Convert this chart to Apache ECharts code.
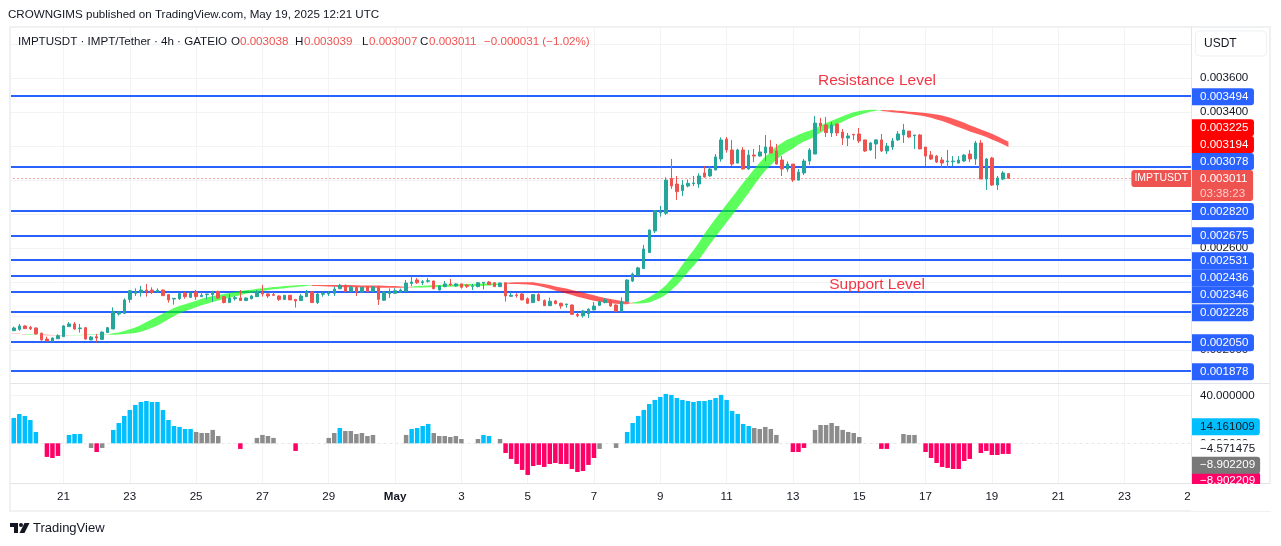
<!DOCTYPE html>
<html>
<head>
<meta charset="utf-8">
<title>IMPTUSDT 4h</title>
<script src="https://cdn.jsdelivr.net/npm/echarts@6/dist/echarts.min.js"></script>
<style>
  html, body { margin: 0; padding: 0; background: #fff; }
  #chart { width: 1281px; height: 546px; }
</style>
</head>
<body>
<div id="chart"></div>
<script>
// Prices throughout are in millionths of USDT (3494 = 0.003494).
// One row per 4h candle: [open, close, low, high].
const candles = [
  [2116,2120,2113,2122],
  [2115,2131,2113,2139],[2123,2143,2115,2155],[2143,2127,2125,2147],[2135,2127,2119,2143],[2131,2096,2092,2135],
  [2100,2061,2057,2104],[2066,2055,2053,2080],[2053,2072,2051,2076],[2068,2086,2066,2094],[2080,2143,2078,2147],
  [2139,2155,2137,2166],[2155,2125,2121,2166],[2127,2131,2104,2155],[2133,2066,2062,2137],[2061,2078,2059,2084],
  [2080,2072,2047,2096],[2064,2107,2062,2111],[2104,2133,2102,2137],[2125,2229,2125,2252],[2213,2225,2204,2229],
  [2217,2296,2213,2305],[2299,2350,2280,2354],[2335,2343,2319,2364],[2339,2354,2315,2378],[2354,2346,2315,2390],
  [2354,2339,2331,2370],[2343,2352,2339,2364],[2354,2321,2319,2358],[2327,2296,2280,2331],[2301,2305,2268,2305],
  [2303,2333,2296,2339],[2335,2315,2303,2343],[2311,2335,2307,2343],[2343,2315,2296,2354],[2315,2323,2313,2343],
  [2327,2331,2299,2331],[2327,2344,2284,2350],[2346,2307,2303,2350],[2315,2280,2276,2319],[2280,2307,2278,2331],
  [2303,2309,2292,2319],[2307,2292,2290,2354],[2292,2307,2290,2311],[2303,2319,2299,2325],[2315,2343,2313,2354],
  [2339,2331,2315,2384],[2331,2319,2307,2335],[2327,2323,2319,2343],[2319,2299,2290,2323],[2299,2323,2296,2325],
  [2323,2296,2296,2325],[2299,2290,2251,2301],[2292,2319,2290,2331],[2315,2343,2313,2354],[2343,2280,2278,2344],
  [2280,2331,2272,2335],[2329,2333,2315,2343],[2331,2335,2319,2348],[2335,2360,2319,2374],[2362,2382,2358,2390],
  [2382,2346,2342,2386],[2346,2370,2342,2378],[2370,2342,2319,2374],[2342,2370,2339,2374],[2374,2346,2342,2378],
  [2346,2370,2342,2378],[2370,2299,2266,2374],[2294,2342,2290,2346],[2333,2344,2307,2364],[2335,2350,2331,2364],
  [2342,2354,2339,2362],[2346,2395,2342,2413],[2393,2401,2378,2433],[2413,2397,2390,2425],[2397,2403,2384,2413],
  [2405,2409,2397,2425],[2407,2362,2358,2409],[2354,2378,2352,2382],[2374,2390,2370,2407],[2390,2384,2378,2419],
  [2378,2390,2374,2395],[2390,2370,2362,2393],[2382,2376,2366,2390],[2376,2378,2354,2390],[2374,2397,2370,2401],
  [2395,2399,2358,2401],[2401,2387,2384,2407],[2397,2374,2372,2401],[2374,2395,2372,2399],[2397,2319,2286,2397],
  [2317,2323,2315,2339],[2325,2321,2309,2335],[2331,2296,2294,2342],[2303,2276,2274,2311],[2280,2327,2278,2331],
  [2327,2292,2288,2335],[2292,2262,2260,2299],[2262,2288,2260,2309],[2290,2274,2270,2296],[2276,2260,2244,2280],
  [2268,2272,2250,2272],[2266,2211,2207,2270],[2211,2203,2194,2223],[2203,2231,2192,2237],[2215,2241,2190,2247],
  [2237,2260,2235,2284],[2264,2286,2260,2299],[2280,2296,2276,2305],[2290,2260,2256,2299],[2266,2229,2225,2270],
  [2229,2286,2227,2311],[2286,2413,2286,2417],[2407,2448,2401,2456],[2440,2484,2438,2491],[2480,2595,2478,2619],
  [2574,2707,2572,2707],[2701,2820,2689,2824],[2809,2814,2785,2848],[2805,3000,2795,3016],[3010,2965,2948,3124],
  [2977,2932,2883,3024],[2938,2971,2906,3000],[2965,2981,2957,3004],[2979,2983,2965,3024],[2977,3024,2955,3040],
  [3042,3018,3014,3083],[3024,3065,3020,3083],[3059,3136,3059,3153],[3124,3236,3108,3251],[3241,3177,3161,3253],
  [3177,3094,3083,3236],[3100,3177,3098,3185],[3177,3065,3063,3194],[3065,3147,3059,3177],[3147,3141,3106,3183],
  [3141,3165,3138,3206],[3159,3194,3112,3265],[3194,3159,3157,3236],[3171,3094,3091,3212],[3118,3065,3024,3141],
  [3065,3094,3049,3110],[3094,3000,2989,3094],[3000,3047,2997,3065],[3042,3112,3030,3124],[3112,3177,3089,3188],
  [3153,3335,3153,3376],[3335,3318,3288,3365],[3324,3279,3253,3371],[3277,3324,3253,3341],[3330,3277,3259,3330],
  [3282,3247,3206,3300],[3247,3259,3200,3277],[3269,3265,3236,3271],[3271,3230,3218,3306],[3236,3171,3165,3236],
  [3177,3218,3171,3224],[3212,3236,3124,3241],[3236,3171,3165,3271],[3171,3200,3153,3218],[3194,3230,3177,3247],
  [3236,3271,3230,3288],[3265,3294,3218,3330],[3288,3253,3247,3288],[3261,3265,3183,3265],[3265,3183,3181,3271],
  [3194,3141,3083,3194],[3147,3124,3118,3171],[3141,3106,3100,3147],[3118,3100,3071,3136],[3108,3112,3071,3177],
  [3108,3112,3083,3141],[3100,3118,3098,3141],[3112,3147,3106,3153],[3153,3124,3106,3177],[3124,3218,3089,3230],
  [3218,3006,3006,3236],[3006,3124,2942,3130],[3130,2971,2965,3136],[2971,3012,2942,3024],[3006,3042,3000,3053],
  [3038,3011,3007,3039]
];

// Moving-average ribbon, one row per candle: [fast, slow].
const ribbon = [
  [2095,2097],
  [2095,2097],[2095,2097],[2095,2093],[2095,2093],[2094,2092],[2090,2092],[2089,2091],[2088,2090],[2088,2090],[2088,2090],
  [2090,2088],[2090,2088],[2090,2088],[2092,2090],[2092,2090],[2092,2090],[2092,2090],[2094,2092],[2100,2091],[2105,2093],
  [2113,2095],[2123,2098],[2134,2102],[2149,2109],[2166,2119],[2182,2132],[2199,2146],[2216,2163],[2232,2182],[2249,2202],
  [2262,2218],[2271,2229],[2281,2241],[2291,2253],[2303,2265],[2311,2274],[2319,2284],[2325,2293],[2331,2301],[2337,2309],
  [2342,2316],[2348,2324],[2353,2332],[2356,2338],[2361,2344],[2365,2349],[2368,2354],[2372,2358],[2374,2362],[2377,2365],
  [2379,2369],[2382,2372],[2384,2375],[2384,2378],[2378,2383],[2377,2383],[2376,2383],[2375,2383],[2373,2383],[2372,2383],
  [2371,2383],[2371,2383],[2370,2382],[2369,2381],[2369,2381],[2368,2380],[2368,2380],[2367,2379],[2367,2378],[2367,2377],
  [2367,2375],[2369,2373],[2375,2369],[2377,2369],[2379,2369],[2381,2370],[2383,2371],[2384,2372],[2385,2373],[2386,2374],
  [2387,2375],[2389,2376],[2390,2377],[2391,2378],[2391,2378],[2392,2379],[2392,2380],[2392,2382],[2392,2387],[2392,2395],
  [2390,2398],[2389,2399],[2388,2400],[2386,2399],[2383,2399],[2377,2394],[2370,2390],[2361,2383],[2351,2375],[2343,2369],
  [2334,2363],[2325,2354],[2315,2347],[2307,2339],[2299,2331],[2291,2323],[2285,2315],[2280,2307],[2276,2301],[2273,2295],
  [2270,2289],[2271,2285],[2281,2275],[2287,2275],[2297,2276],[2312,2281],[2332,2294],[2354,2307],[2382,2326],[2419,2354],
  [2456,2382],[2503,2421],[2546,2460],[2587,2495],[2633,2533],[2684,2578],[2730,2624],[2775,2667],[2815,2709],[2858,2752],
  [2899,2793],[2942,2838],[2984,2882],[3024,2926],[3065,2971],[3103,3015],[3138,3056],[3167,3087],[3197,3121],[3218,3147],
  [3238,3168],[3250,3186],[3267,3209],[3279,3227],[3290,3240],[3303,3256],[3321,3279],[3336,3294],[3349,3310],[3362,3326],
  [3375,3343],[3388,3359],[3398,3372],[3406,3382],[3410,3392],[3413,3401],[3413,3407],[3406,3412],[3403,3411],[3399,3411],
  [3396,3408],[3392,3406],[3388,3402],[3384,3400],[3379,3397],[3373,3394],[3366,3390],[3356,3385],[3347,3379],[3335,3371],
  [3322,3360],[3310,3349],[3299,3337],[3286,3322],[3275,3310],[3265,3297],[3253,3285],[3239,3272],[3225,3257],[3211,3242],
  [3194,3225]
];

// Lower-pane momentum histogram and its colour state
// (b = rising, g = fading, p = falling, . = no bar).
const momentum = [
  17.0,
  21.2,24.5,22.9,19.5,9.5,0,-11.4,-12.3,-10.6,0,
  7.0,7.8,7.8,0,-3.9,-7.3,-3.9,0,11.2,17.0,
  22.9,27.9,32.1,34.6,35.4,34.6,34.6,27.9,19.5,14.5,
  13.7,12.0,12.0,9.5,8.6,8.6,11.2,6.1,0,0,
  0,-4.7,0,0,4.5,7.0,6.1,4.5,0,0,
  0,-6.4,0,0,0,0,0,4.5,8.6,12.8,
  10.3,10.3,7.8,8.6,6.1,7.0,0,0,0,0,
  0,7.0,12.0,12.8,14.5,16.2,8.6,6.1,6.1,5.3,
  6.1,3.6,0,0,3.6,7.0,6.1,0,3.6,-8.1,
  -13.1,-17.3,-22.3,-26.5,-19.0,-18.1,-19.8,-17.3,-16.5,-17.3,
  -17.3,-21.5,-24.0,-23.2,-18.1,-12.3,-4.7,0,0,-3.9,
  0,9.5,17.0,22.9,27.9,32.9,36.3,38.8,41.3,40.5,
  37.9,36.3,35.4,34.6,35.4,35.4,36.3,37.9,40.5,36.3,
  27.1,24.6,16.2,14.5,12.8,12.0,13.7,12.0,7.0,0,
  0,-7.3,-7.3,-3.9,0,11.2,15.3,15.3,17.0,14.5,
  11.2,9.5,8.6,5.3,0,0,0,-4.7,-4.7,0,
  0,7.8,7.0,7.0,0,-7.3,-12.3,-16.5,-19.8,-20.6,
  -21.5,-21.5,-14.8,-13.1,0,-8.1,-6.4,-9.8,-9.8,-8.9,
  -8.902209
];
const momentumState = (
  'b' +
  'bbbbb.ppp.' + 'bbb.gpg.bb' + 'bbbbbbbbbb' + 'bbbggggg..' + '.p..gggg..' +
  '.p.....ggb' + 'gggggg....' + '.gbbbbgggg' + 'gg..gbb.gp' + 'pppppppppp' +
  'ppppppg..g' + '.bbbbbbbbb' + 'bbbbbbbbbb' + 'bbbbggggg.' + '.ppp.ggggg' +
  'gggg...pp.' + '.ggg.ppppp' + 'pppp.pppppp'
).split('');

const levelPrices = [3494, 3078, 2820, 2675, 2531, 2436, 2346, 2228, 2050, 1878];
const ribbonLast = { slow: 3225, fast: 3194 };
const lastClose = 3011;
const pairLabel = 'IMPTUSDT';
const countdown = '03:38:23';
const dateLabels = ['21','23','25','27','29','May','3','5','7','9','11','13','15','17','19','21','23','25'];
const paneValues = { cyan: 14.161009, plain: -4.571475, gray: -8.902209, pink: -8.902209 };

// Layout of the two panes and the time scale.
const FIRST_TICK = 10, TICK_STEP = 12, BAR_COUNT = 215;
const PLOT = { left: 5.474, width: 1188.09 };
const TAG_NUDGE = -1.56;
const levelTagShift = [0.7, -5.3, 0.7, 0.3, 0.8, 1.6, 3.3, 1.2, 0.9, 0.7];

const UP = '#26a69a', DOWN = '#ef5350', LEVEL = '#2962ff', GRID = '#f2f3f5', INK = '#131722';
const FONT = '"Liberation Sans", Arial, sans-serif';
const SCALE_SIZE = 11.6;
const STATE_COLOR = { b: '#00bfff', g: '#8c8c8c', p: '#ff0066', '.': 'transparent' };

const categories = [];
for (let i = 0; i < BAR_COUNT; i++) {
  const t = new Date(Date.UTC(2025, 3, 19, 8 + i * 4));
  categories.push(t.toISOString().slice(0, 16));
}
const isDateTick = i => i >= FIRST_TICK && (i - FIRST_TICK) % TICK_STEP === 0;
const tickText = i => dateLabels[(i - FIRST_TICK) / TICK_STEP] || '';
const price = v => (v / 1e6).toFixed(6);
const fixed = v => v.toFixed(6).replace('-', '\u2212');

// A value tag sitting on the price scale, carried by a markLine data item.
function tag(value, text, bg, color, shift, extra) {
  return {
    yAxis: value,
    lineStyle: { width: 0, color: 'transparent' },
    label: Object.assign({
      show: true, position: 'end', distance: 0, align: 'left', verticalAlign: 'middle',
      formatter: text, color: color, backgroundColor: bg,
      fontFamily: FONT, fontSize: SCALE_SIZE, lineHeight: 17,
      padding: [0, 5.6, 0, 8], borderRadius: [0, 3, 3, 0],
      offset: [TAG_NUDGE, shift]
    }, extra || {})
  };
}

// Ribbon band: each run of one colour becomes a single filled polygon,
// reaching one bar further so neighbouring runs join up.
function renderRibbon(params, api) {
  const i = params.dataIndex;
  const rising = k => ribbon[k][0] >= ribbon[k][1];
  if (i > 0 && rising(i) === rising(i - 1)) return null;
  let end = i;
  while (end + 1 < ribbon.length && rising(end + 1) === rising(i)) end++;
  const stop = Math.min(end + 1, ribbon.length - 1);
  const pts = [];
  for (let k = i; k <= stop; k++) pts.push(api.coord([k, ribbon[k][0]]));
  for (let k = stop; k >= i; k--) pts.push(api.coord([k, ribbon[k][1]]));
  return {
    type: 'polygon',
    shape: { points: pts },
    style: { fill: rising(i) ? 'rgba(0,255,0,0.64)' : 'rgba(255,0,0,0.64)' }
  };
}

const last = candles[candles.length - 1];
const prevClose = candles[candles.length - 2][1];
const change = last[1] - prevClose;
const changePct = (change / prevClose * 100).toFixed(2).replace('-', '\u2212');

const SMALL = '11.6px ' + FONT;
function text(x, y, str, fill, opts) {
  return {
    type: 'text', x: x, y: y, z: 40, silent: true,
    style: Object.assign({
      text: str, fill: fill || INK, font: SMALL,
      textAlign: 'left', textVerticalAlign: 'middle'
    }, opts || {})
  };
}
function box(x, y, w, h, z) {
  return { type: 'rect', z: z, silent: true, shape: { x: x, y: y, width: w, height: h }, style: { fill: '#fff' } };
}
function rule(x1, y1, x2, y2, color) {
  return { type: 'line', z: 18, silent: true, shape: { x1: x1, y1: y1, x2: x2, y2: y2 }, style: { stroke: color, lineWidth: 1 } };
}

const graphics = [
  box(0, 27, 10, 486, 15),
  box(10, 484, 1182, 28, 15),
  box(1192, 27, 3, 486, 15),
  box(1191, 484, 80, 27, 25),
  { type: 'rect', z: 17, silent: true, shape: { x: 10, y: 27, width: 1260, height: 484 },
    style: { fill: 'transparent', stroke: '#f0f1f3', lineWidth: 2 } },
  rule(1191.5, 27, 1191.5, 511, '#e4e5e8'),
  rule(10, 383.5, 1270, 383.5, '#e4e5e8'),
  rule(10, 483.5, 1270, 483.5, '#e4e5e8'),
  { type: 'rect', z: 26, silent: true, shape: { x: 1195.5, y: 31, width: 71, height: 25, r: 4 },
    style: { fill: '#fff', stroke: '#f0f1f3', lineWidth: 1 } },
  text(1204, 44, 'USDT', INK, { font: '12px ' + FONT }),
  text(8, 14.5, 'CROWNGIMS published on TradingView.com, May 19, 2025 12:21 UTC', INK),
  text(18, 42, 'IMPTUSDT \u00b7 IMPT/Tether \u00b7 4h \u00b7 GATEIO', INK),
  text(231, 42, 'O', INK), text(240, 42, price(last[0]), DOWN),
  text(295, 42, 'H', INK), text(304, 42, price(last[3]), DOWN),
  text(362, 42, 'L', INK), text(369, 42, price(last[2]), DOWN),
  text(420, 42, 'C', INK), text(429, 42, price(last[1]), DOWN),
  text(484, 42, price(change).replace('-', '\u2212') + ' (' + changePct + '%)', DOWN),
  text(877, 80.5, 'Resistance Level', '#f23645', { font: '15.5px ' + FONT, textAlign: 'center' }),
  text(877, 284.5, 'Support Level', '#f23645', { font: '15.5px ' + FONT, textAlign: 'center' }),
  { type: 'polygon', z: 40, silent: true, shape: { points: [[10,523],[18,523],[18,533],[14,533],[14,527],[10,527]] }, style: { fill: INK } },
  { type: 'circle', z: 40, silent: true, shape: { cx: 21, cy: 525, r: 2 }, style: { fill: INK } },
  { type: 'polygon', z: 40, silent: true, shape: { points: [[24.5,523],[29.5,523],[24.5,533],[19.5,533]] }, style: { fill: INK } },
  text(33, 528.5, 'TradingView', INK, { font: '13px ' + FONT })
];

const gridSplit = {
  show: true, alignWithLabel: true,
  interval: i => isDateTick(i),
  lineStyle: { color: GRID, width: 1 }
};

const option = {
  animation: false,
  backgroundColor: '#fff',
  textStyle: { fontFamily: FONT },
  grid: [
    { left: PLOT.left, width: PLOT.width, top: 26.9, height: 357.42 },
    { left: PLOT.left, width: PLOT.width, top: 347.7, height: 143.4 },
    { left: PLOT.left, width: PLOT.width, top: 484, height: 2 }
  ],
  xAxis: [
    { type: 'category', gridIndex: 0, data: categories, axisLine: { show: false }, axisTick: { show: false },
      axisLabel: { show: false }, splitLine: gridSplit },
    { type: 'category', gridIndex: 1, data: categories, axisLine: { show: false }, axisTick: { show: false },
      axisLabel: { show: false }, splitLine: gridSplit },
    { type: 'category', gridIndex: 2, z: 22, data: categories, axisLine: { show: false }, axisTick: { show: false },
      splitLine: { show: false },
      axisLabel: {
        show: true, margin: 5, fontFamily: FONT, fontSize: SCALE_SIZE, color: INK, hideOverlap: false,
        interval: i => isDateTick(i),
        formatter: (v, i) => tickText(i) === 'May' ? '{m|May}' : tickText(i),
        rich: { m: { fontFamily: FONT, fontSize: SCALE_SIZE, fontWeight: 'bold', color: INK } }
      } }
  ],
  yAxis: [
    { type: 'value', gridIndex: 0, position: 'right', min: 1800, max: 3900, interval: 200, scale: true,
      axisLine: { show: false }, axisTick: { show: false },
      axisLabel: { margin: 6.4, fontFamily: FONT, fontSize: SCALE_SIZE, color: INK, showMinLabel: false, showMaxLabel: false,
        formatter: v => price(v) },
      splitLine: { show: true, showMinLine: false, showMaxLine: false, lineStyle: { color: GRID, width: 1 } } },
    { type: 'value', gridIndex: 1, position: 'right', min: -40, max: 80, interval: 40,
      axisLine: { show: false }, axisTick: { show: false },
      axisLabel: { margin: 6.4, fontFamily: FONT, fontSize: SCALE_SIZE, color: INK, showMinLabel: false, showMaxLabel: false,
        formatter: v => fixed(v) },
      splitLine: { show: false } },
    { type: 'value', gridIndex: 2, show: false }
  ],
  graphic: { elements: graphics },
  series: [
    // Support and resistance lines plus the dotted last-price line, under the candles.
    { type: 'line', name: 'levels', xAxisIndex: 0, yAxisIndex: 0, data: [], silent: true,
      markLine: {
        z: 1, silent: true, symbol: ['none', 'none'], animation: false, label: { show: false },
        data: levelPrices.map(v => ({ yAxis: v, lineStyle: { color: LEVEL, width: 2, type: 'solid' } })).concat([
          { yAxis: lastClose, lineStyle: { color: DOWN, width: 1, type: [1, 3] } }
        ])
      } },
    { type: 'custom', name: 'ribbon', xAxisIndex: 0, yAxisIndex: 0, z: 2, silent: true,
      renderItem: renderRibbon,
      encode: { x: 0, y: [1, 2] },
      data: ribbon.map((r, i) => [i, r[0], r[1]]) },
    { type: 'candlestick', name: 'IMPTUSDT', xAxisIndex: 0, yAxisIndex: 0, z: 3, silent: true,
      barWidth: 3,
      itemStyle: { color: UP, color0: DOWN, borderColor: UP, borderColor0: DOWN, borderWidth: 1 },
      data: candles },
    // Lower-pane reference lines.
    { type: 'line', name: 'pane lines', xAxisIndex: 1, yAxisIndex: 1, data: [], silent: true,
      markLine: {
        z: 1, silent: true, symbol: ['none', 'none'], animation: false, label: { show: false },
        data: [
          { yAxis: 40, lineStyle: { color: GRID, width: 1, type: 'solid' } },
          { yAxis: 0, lineStyle: { color: '#e6e7ea', width: 1, type: [3, 3] } }
        ]
      } },
    { type: 'bar', name: 'momentum', xAxisIndex: 1, yAxisIndex: 1, z: 3, silent: true, barWidth: 4.5,
      data: momentum.map((v, i) => ({ value: v, itemStyle: { color: STATE_COLOR[momentumState[i]] } })) },
    // Value tags on the price scale.
    { type: 'line', name: 'price tags', xAxisIndex: 0, yAxisIndex: 0, data: [], silent: true,
      markLine: {
        z: 20, silent: true, symbol: ['none', 'none'], animation: false,
        data: levelPrices.map((v, i) => tag(v, price(v), LEVEL, '#fff', levelTagShift[i])).concat([
          tag(ribbonLast.slow, price(ribbonLast.slow), '#ff0000', '#fff', -14),
          tag(ribbonLast.fast, price(ribbonLast.fast), '#ff0000', '#fff', -2.5),
          tag(lastClose, '{a|' + price(lastClose) + '}\n{b|' + countdown + '}', DOWN, '#fff', 7.3, {
            lineHeight: 15, padding: [1, 5.6, 0, 8],
            rich: {
              a: { color: '#fff', fontSize: SCALE_SIZE, fontFamily: FONT, lineHeight: 15 },
              b: { color: 'rgba(255,255,255,0.7)', fontSize: SCALE_SIZE, fontFamily: FONT, lineHeight: 15 }
            }
          }),
          tag(lastClose, pairLabel, DOWN, '#fff', 0.3, {
            align: 'right', fontSize: 10.5, padding: [0, 3, 0, 3], borderRadius: [3, 0, 0, 3], offset: [-2.5, 0.3]
          })
        ])
      } },
    { type: 'line', name: 'pane tags', xAxisIndex: 1, yAxisIndex: 1, data: [], silent: true,
      markLine: {
        z: 20, silent: true, symbol: ['none', 'none'], animation: false,
        data: [
          tag(paneValues.plain, fixed(paneValues.plain), '#fff', INK, 0, { padding: [0, 5, 0, 8] }),
          tag(paneValues.pink, fixed(paneValues.pink), '#ff0066', '#fff', 26.7, { padding: [0, 5, 0, 8] }),
          tag(paneValues.gray, fixed(paneValues.gray), '#787878', '#fff', 11.3, { padding: [0, 5, 0, 8] }),
          tag(paneValues.cyan, fixed(paneValues.cyan), '#00bfff', INK, 0.3, { padding: [0, 5, 0, 8] })
        ]
      } }
  ]
};

echarts.init(document.getElementById('chart'), null, { renderer: 'canvas' }).setOption(option);
</script>
</body>
</html>
